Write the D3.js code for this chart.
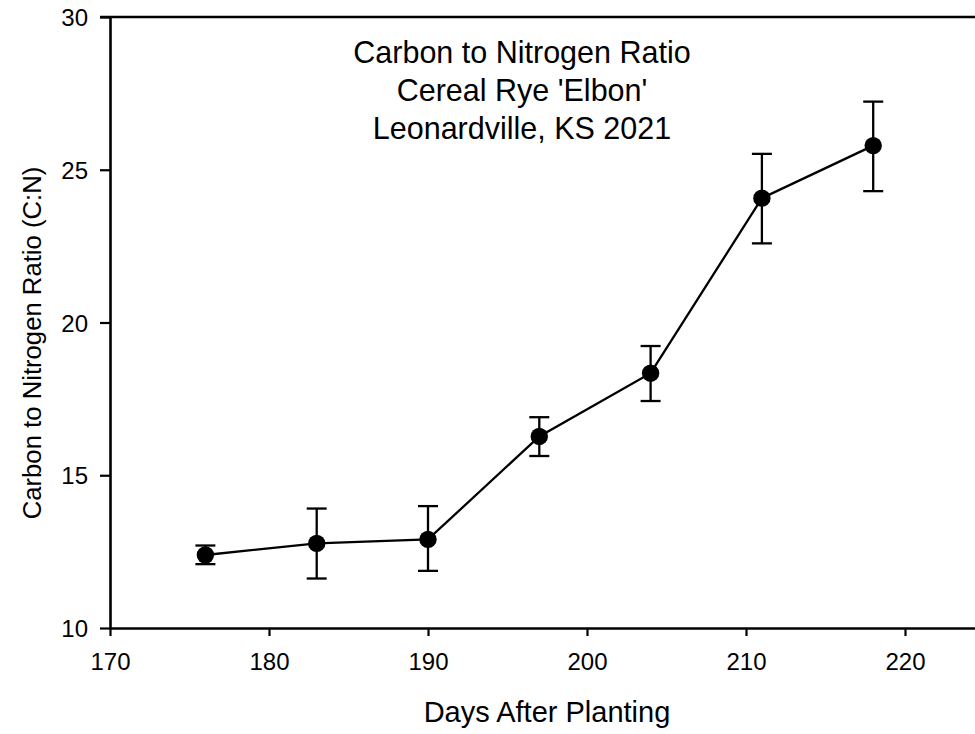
<!DOCTYPE html>
<html>
<head>
<meta charset="utf-8">
<script src="https://cdn.jsdelivr.net/npm/d3@7"></script>
<style>
  body { margin: 0; background: #fff; }
  svg { display: block; font-family: "Liberation Sans", Arial, sans-serif; }
</style>
</head>
<body>
<div id="chart"></div>
<script>
// values
var days = [176, 183, 190, 197, 204, 211, 218];
var ratio = [12.39, 12.77, 12.90, 16.27, 18.34, 24.07, 25.79];
var errLow = [12.09, 11.62, 11.87, 15.63, 17.43, 22.59, 24.30];
var errHigh = [12.70, 13.91, 13.99, 16.90, 19.23, 25.52, 27.23];
var xTicks = [170, 180, 190, 200, 210, 220];
var yTicks = [10, 15, 20, 25, 30];
var titleLines = ["Carbon to Nitrogen Ratio", "Cereal Rye 'Elbon'", "Leonardville, KS 2021"];

var width = 975, height = 734;
var margin = {top: 17, left: 110, bottom: 106};

var svg = d3.select("#chart")
    .append("svg")
    .attr("width", width)
    .attr("height", height)

var x = d3.scaleLinear()
    .domain([170, 225])
    .range([margin.left, margin.left + 55 * 15.9])

var y = d3.scaleLinear()
    .domain([10, 30])
    .range([height - margin.bottom, margin.top])

var data = days.map(function(d, i){
    return {x: d, y: ratio[i], lo: errLow[i], hi: errHigh[i]};
});

// frame (top and right lines; right is off the page like the reference)
svg.append("line")
    .attr("x1", margin.left - 10).attr("x2", x(225))
    .attr("y1", y(30)).attr("y2", y(30))
    .attr("stroke", "#000").attr("stroke-width", 2.6)
svg.append("line")
    .attr("x1", x(225)).attr("x2", x(225))
    .attr("y1", y(30)).attr("y2", y(10))
    .attr("stroke", "#000").attr("stroke-width", 2.6)

var xAxis = svg.append("g")
    .attr("transform", "translate(0," + y(10) + ")")
    .call(d3.axisBottom(x).tickValues(xTicks).tickSize(8).tickPadding(17).tickSizeOuter(0))

var yAxis = svg.append("g")
    .attr("transform", "translate(" + margin.left + ",0)")
    .call(d3.axisLeft(y).tickValues(yTicks).tickSize(10).tickPadding(12).tickSizeOuter(0))

;[xAxis, yAxis].forEach(function(g){
    g.attr("font-size", 24).attr("font-family", "Liberation Sans, Arial, sans-serif")
    g.select(".domain").attr("stroke", "#000").attr("stroke-width", 2.6)
    g.selectAll(".tick line").attr("stroke", "#000").attr("stroke-width", 2.2)
    g.selectAll(".tick text").attr("fill", "#000").attr("font-size", 24)
})
xAxis.selectAll(".tick text").attr("dy", "0.71em")
yAxis.selectAll(".tick text").attr("dy", "0.36em")

// axis titles
svg.append("text")
    .attr("x", 547).attr("y", 722)
    .attr("text-anchor", "middle")
    .attr("font-size", 29)
    .text("Days After Planting")

svg.append("text")
    .attr("transform", "translate(41," + 343 + ") rotate(-90)")
    .attr("text-anchor", "middle")
    .attr("font-size", 25.7)
    .text("Carbon to Nitrogen Ratio (C:N)")

// title
svg.selectAll(".title")
    .data(titleLines).enter().append("text")
    .attr("class", "title")
    .attr("x", 522)
    .attr("y", function(d, i){ return 63 + i * 38; })
    .attr("text-anchor", "middle")
    .attr("font-size", 30.5)
    .text(function(d){ return d; })

// line
var line = d3.line()
    .x(function(d){ return x(d.x); })
    .y(function(d){ return y(d.y); })

svg.append("path")
    .datum(data)
    .attr("d", line)
    .attr("fill", "none")
    .attr("stroke", "#000")
    .attr("stroke-width", 2.3)

// error bars
var err = svg.selectAll(".err")
    .data(data).enter().append("g")
    .attr("class", "err")
    .attr("stroke", "#000")
    .attr("stroke-width", 2.3)

err.append("line")
    .attr("x1", function(d){ return x(d.x); })
    .attr("x2", function(d){ return x(d.x); })
    .attr("y1", function(d){ return y(d.lo); })
    .attr("y2", function(d){ return y(d.hi); })

err.append("line")
    .attr("x1", function(d){ return x(d.x) - 10; })
    .attr("x2", function(d){ return x(d.x) + 10; })
    .attr("y1", function(d){ return y(d.hi); })
    .attr("y2", function(d){ return y(d.hi); })

err.append("line")
    .attr("x1", function(d){ return x(d.x) - 10; })
    .attr("x2", function(d){ return x(d.x) + 10; })
    .attr("y1", function(d){ return y(d.lo); })
    .attr("y2", function(d){ return y(d.lo); })

// points
svg.selectAll(".pt")
    .data(data).enter().append("circle")
    .attr("class", "pt")
    .attr("cx", function(d){ return x(d.x); })
    .attr("cy", function(d){ return y(d.y); })
    .attr("r", 8.7)
    .attr("fill", "#000")
</script>
</body>
</html>
